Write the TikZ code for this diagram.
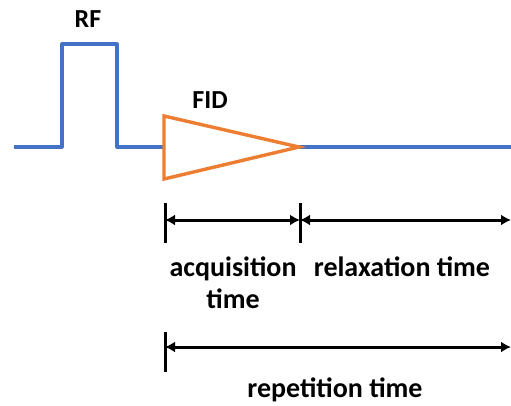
\documentclass[tikz,border=0pt]{standalone}
\usepackage{fontspec}
\setmainfont{Carlito}
\usetikzlibrary{arrows.meta}
\usetikzlibrary{positioning}

\definecolor{pulseblue}{RGB}{68,114,196}
\definecolor{fidorange}{RGB}{237,125,49}

\begin{document}
\begin{tikzpicture}[x=1pt,y=-1pt,
  pulse/.style={draw=pulseblue,line width=3.2pt,line join=round},
  fid/.style={draw=fidorange,line width=3.4pt,line join=miter},
  tick/.style={draw=black,line width=3pt},
  span/.style={draw=black,line width=3pt,{Latex[length=10pt,width=11pt]}-{Latex[length=10pt,width=11pt]}},
  lbl/.style={font=\fontsize{28}{32}\selectfont\bfseries,align=center,inner sep=0pt,anchor=base},
  tag/.style={font=\fontsize{26}{30}\selectfont\bfseries,inner sep=0pt,anchor=base}]
  \useasboundingbox (0,0) rectangle (511,405);
  % pulse sequence
  \coordinate (start) at (14,147);
  \coordinate (rfup) at (62,147);
  \coordinate (rfdown) at (117,147);
  \coordinate (fidstart) at (164,147);
  \coordinate (fidtip) at (299,147);
  \coordinate (stop) at (511,147);
  \draw[pulse] (start) -- (rfup) -- (62,44) -- (117,44) -- (rfdown) -- (fidstart);
  \draw[pulse] (fidtip) -- (stop);
  \draw[fid] (fidtip) -- (164,116) -- (164,179) -- cycle;
  \node[tag] (rf) at (88,27) {RF};
  \node[tag] (fidlabel) at (210,108) {FID};
  % time spans
  \coordinate (acqa) at (165,220);
  \coordinate (acqb) at (300,220);
  \coordinate (relb) at (511,220);
  \coordinate (repa) at (165,347);
  \coordinate (repb) at (511,347);
  \draw[tick] (165,203) -- (165,243);
  \draw[tick] (300,203) -- (300,243);
  \draw[tick] (165,332) -- (165,372);
  \draw[span] (acqa) -- (acqb);
  \draw[span] (acqb) -- (relb);
  \draw[span] (repa) -- (repb);
  \node[lbl] (acq) at (233,308) {acquisition\\time};
  \node[lbl] (relax) at (402,276) {relaxation time};
  \node[lbl] (rep) at (335,397) {repetition time};
\end{tikzpicture}
\end{document}
